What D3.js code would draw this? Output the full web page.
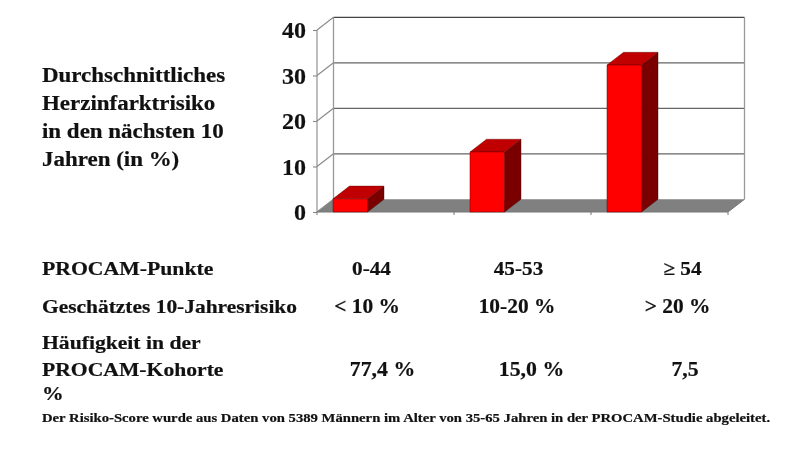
<!DOCTYPE html>
<html><head><meta charset="utf-8">
<script src="https://cdn.jsdelivr.net/npm/d3@7/dist/d3.min.js"></script>
<style>
html,body{margin:0;padding:0;background:#fff;overflow:hidden}
svg{display:block;filter:blur(0.55px)}
text{font-family:"Liberation Serif",serif;font-weight:bold;fill:#111;stroke:#111;stroke-width:.2px}
</style></head><body>
<svg id="c" width="800" height="454"></svg>
<script>
const categories = ["0-44","45-53","≥ 54"];
const riskValues = [2.9,13.2,32.3];
const yTicks = [0,10,20,30,40];
const titleLines = ["Durchschnittliches","Herzinfarktrisiko","in den nächsten 10","Jahren (in %)"];
const rowLabels = ["PROCAM-Punkte","Geschätztes 10-Jahresrisiko"];
const rowLabelsMulti = ["Häufigkeit in der","PROCAM-Kohorte","%"];
const pointsRow = ["0-44","45-53","≥ 54"];
const riskRow = ["< 10 %","10-20 %","> 20 %"];
const freqRow = ["77,4 %","15,0 %","7,5"];
const footnote = "Der Risiko-Score wurde aus Daten von 5389 Männern im Alter von 35-65 Jahren in der PROCAM-Studie abgeleitet.";

const svg = d3.select("#c");
const y = d3.scaleLinear().domain([0,40]).range([212,30]);
const x = d3.scaleBand().domain(categories).range([317,728]);
const dx = 16.5, dy = -12.7, barInset = 16, barW = 34.5;
const poly = (pts,fill,stroke,sw) => svg.append("polygon").attr("points",pts.map(p=>p.join(",")).join(" ")).attr("fill",fill).attr("stroke",stroke||"none").attr("stroke-width",sw||0);
const x0 = x.range()[0], x1 = x.range()[1];
const label = (t,px,py,size,sx,anchor) => svg.append("text")
  .attr("transform",`translate(${px},${py}) scale(${sx},1)`)
  .attr("text-anchor",anchor||"start").attr("font-size",size).text(t);

// floor
poly([[x0,y(0)],[x1,y(0)],[x1+dx,y(0)+dy],[x0+dx,y(0)+dy]],"#808080");

// back wall gridlines
svg.selectAll("line.grid").data(yTicks.slice(1)).join("line").attr("class","grid")
  .attr("x1",x0+dx).attr("x2",x1+dx).attr("y1",d=>y(d)+dy).attr("y2",d=>y(d)+dy)
  .attr("stroke",d=>d===40?"#444":"#666").attr("stroke-width",1.3);
// wall verticals
svg.append("line").attr("x1",x0+dx).attr("x2",x0+dx).attr("y1",y(40)+dy).attr("y2",y(0)+dy).attr("stroke","#999").attr("stroke-width",1.3);
svg.append("line").attr("x1",x1+dx).attr("x2",x1+dx).attr("y1",y(40)+dy).attr("y2",y(0)+dy).attr("stroke","#999").attr("stroke-width",1.3);
// left side wall diagonals
svg.selectAll("line.diag").data(yTicks).join("line").attr("class","diag")
  .attr("x1",x0).attr("x2",x0+dx).attr("y1",d=>y(d)).attr("y2",d=>y(d)+dy)
  .attr("stroke","#888").attr("stroke-width",1.1);

// y axis
const yAxis = d3.axisLeft(y).tickValues(yTicks).tickSize(4).tickPadding(7).tickFormat(d3.format("d"));
const gy = svg.append("g").attr("transform",`translate(${x0},0)`).call(yAxis);
gy.selectAll("path,line").attr("stroke","#888").attr("stroke-width",1.1);
gy.select("path").attr("d",`M0,${y(40)}V${y(0)}`);
gy.selectAll("text").attr("font-size",24).attr("fill","#111");

// x axis
svg.append("line").attr("x1",x0).attr("x2",x1).attr("y1",y(0)).attr("y2",y(0)).attr("stroke","#777").attr("stroke-width",1.1);
svg.selectAll("line.xt").data([...categories.map(c=>x(c)),x1]).join("line").attr("class","xt")
  .attr("x1",d=>d).attr("x2",d=>d).attr("y1",y(0)).attr("y2",y(0)+3).attr("stroke","#777");
svg.append("line").attr("x1",x1).attr("x2",x1+dx).attr("y1",y(0)).attr("y2",y(0)+dy).attr("stroke","#777");

// bars
categories.forEach((c,i)=>{
  const l = x(c)+barInset, r = l+barW, t = y(riskValues[i]), b = y(0);
  poly([[r,t],[r+dx,t+dy],[r+dx,b+dy],[r,b]],"#7a0000","#300",0.4);
  poly([[l,t],[l+dx,t+dy],[r+dx,t+dy],[r,t]],"#c00000","#500",0.4);
  poly([[l,t],[r,t],[r,b],[l,b]],"#ff0000","#600",0.5);
});

// title
titleLines.forEach((t,i)=>label(t,42,82+i*28,20.5,1.12));

// table
label(rowLabels[0],42,275,19.5,1.115);
label(rowLabels[1],42,312.5,19.5,1.1);
rowLabelsMulti.forEach((t,i)=>label(t,42,[349,376,400][i],19.5,1.11));
pointsRow.forEach((t,i)=>label(t,[371.5,518.5,682.5][i],275,19.5,1.09,"middle"));
riskRow.forEach((t,i)=>label(t,[367,517,677.5][i],312.5,20,1.07,"middle"));
freqRow.forEach((t,i)=>label(t,[382.5,531.5,685][i],376,20,1.09,"middle"));
label(footnote,42,422,12.5,1.176);
</script>
</body></html>
